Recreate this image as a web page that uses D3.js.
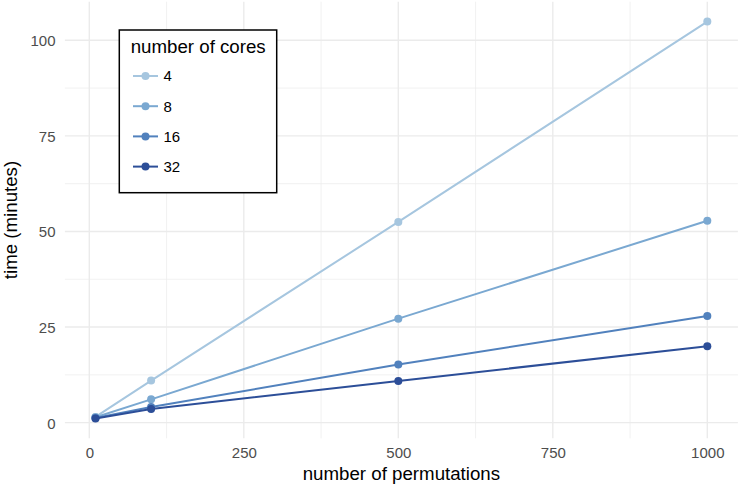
<!DOCTYPE html>
<html>
<head>
<meta charset="utf-8">
<script src="https://cdn.jsdelivr.net/npm/d3@7"></script>
<style>
  html, body { margin: 0; padding: 0; background: #fff; }
  svg { display: block; font-family: "Liberation Sans", Arial, Helvetica, sans-serif; }
</style>
</head>
<body>
<svg id="chart" width="740" height="487"></svg>
<script>
// ---- data ----
const permutations = [10, 100, 500, 1000];
const cores = ["4", "8", "16", "32"];
const time4  = [1.5, 11.0, 52.5, 104.9];
const time8  = [1.4, 6.1, 27.2, 52.8];
const time16 = [1.2, 4.1, 15.2, 27.9];
const time32 = [1.1, 3.6, 10.9, 20.0];
const xTicks = [0, 250, 500, 750, 1000];
const yTicks = [0, 25, 50, 75, 100];
const xMinor = [125, 375, 625, 875];
const yMinor = [12.5, 37.5, 62.5, 87.5];
const colors = ["#a6c6df", "#7aa8d1", "#5181bd", "#2c4e98"];

const seriesValues = [time4, time8, time16, time32];
const series = cores.map((c, i) => ({
  name: c,
  color: colors[i],
  values: permutations.map((p, j) => ({ x: p, y: seriesValues[i][j] }))
}));

// ---- layout ----
const svg = d3.select("#chart");
const panel = { left: 64.9, right: 737.9, top: 1.7, bottom: 438.3 };

function expand(ext, f) { const d = (ext[1] - ext[0]) * f; return [ext[0] - d, ext[1] + d]; }
const allY = seriesValues.flat();
const x = d3.scaleLinear().domain(expand(d3.extent(permutations), 0.05)).range([panel.left, panel.right]);
const y = d3.scaleLinear().domain(expand(d3.extent(allY), 0.05)).range([panel.bottom, panel.top]);

const grid = svg.append("g");
// minor grid
grid.selectAll("line.xm").data(xMinor).enter().append("line")
  .attr("x1", d => x(d)).attr("x2", d => x(d)).attr("y1", panel.top).attr("y2", panel.bottom)
  .attr("stroke", "#ebebeb").attr("stroke-width", 0.7);
grid.selectAll("line.ym").data(yMinor).enter().append("line")
  .attr("y1", d => y(d)).attr("y2", d => y(d)).attr("x1", panel.left).attr("x2", panel.right)
  .attr("stroke", "#ebebeb").attr("stroke-width", 0.7);
// major grid
grid.selectAll("line.xM").data(xTicks).enter().append("line")
  .attr("x1", d => x(d)).attr("x2", d => x(d)).attr("y1", panel.top).attr("y2", panel.bottom)
  .attr("stroke", "#ebebeb").attr("stroke-width", 1.4);
grid.selectAll("line.yM").data(yTicks).enter().append("line")
  .attr("y1", d => y(d)).attr("y2", d => y(d)).attr("x1", panel.left).attr("x2", panel.right)
  .attr("stroke", "#ebebeb").attr("stroke-width", 1.4);

// axes (labels only, via d3 axis)
const xAxis = svg.append("g").attr("transform", `translate(0,${panel.bottom})`)
  .call(d3.axisBottom(x).tickValues(xTicks).tickSize(0).tickPadding(0).tickFormat(d3.format("d")));
xAxis.select(".domain").remove();
xAxis.selectAll("text").attr("y", 0).attr("dy", null)
  .attr("transform", `translate(0,${457.7 - panel.bottom})`)
  .attr("font-size", "15px").attr("fill", "#4d4d4d").attr("font-family", "Liberation Sans, Arial, sans-serif");

const yAxis = svg.append("g").attr("transform", `translate(55.5,0)`)
  .call(d3.axisLeft(y).tickValues(yTicks).tickSize(0).tickPadding(0).tickFormat(d3.format("d")));
yAxis.select(".domain").remove();
yAxis.selectAll("text").attr("x", 0).attr("dy", "0.36em")
  .attr("font-size", "15px").attr("fill", "#4d4d4d").attr("font-family", "Liberation Sans, Arial, sans-serif");

// axis titles
svg.append("text").attr("x", (panel.left + panel.right) / 2).attr("y", 480)
  .attr("text-anchor", "middle").attr("font-size", "18.7px").attr("fill", "#000")
  .text("number of permutations");
svg.append("text").attr("transform", `translate(16.7,${(panel.top + panel.bottom) / 2}) rotate(-90)`)
  .attr("text-anchor", "middle").attr("font-size", "18.7px").attr("fill", "#000")
  .text("time (minutes)");

// lines & points
const line = d3.line().x(d => x(d.x)).y(d => y(d.y));
const sg = svg.append("g").selectAll("g").data(series).enter().append("g");
sg.append("path").attr("d", d => line(d.values)).attr("fill", "none")
  .attr("stroke", d => d.color).attr("stroke-width", 2);
sg.selectAll("circle").data(d => d.values.map(v => ({ ...v, color: d.color }))).enter().append("circle")
  .attr("cx", d => x(d.x)).attr("cy", d => y(d.y)).attr("r", 4).attr("fill", d => d.color);

// legend
const lg = svg.append("g");
lg.append("rect").attr("x", 119.3).attr("y", 30).attr("width", 157.4).attr("height", 162.7)
  .attr("fill", "#fff").attr("stroke", "#000").attr("stroke-width", 1.5);
lg.append("text").attr("x", 130.7).attr("y", 53.3).attr("font-size", "18.7px").attr("fill", "#000")
  .text("number of cores");
const items = lg.selectAll("g.item").data(series).enter().append("g")
  .attr("transform", (d, i) => `translate(0,${76 + i * 30.2})`);
items.append("line").attr("x1", 133).attr("x2", 158).attr("y1", 0).attr("y2", 0)
  .attr("stroke", d => d.color).attr("stroke-width", 2);
items.append("circle").attr("cx", 145.5).attr("cy", 0).attr("r", 4).attr("fill", d => d.color);
items.append("text").attr("x", 163.5).attr("y", 0).attr("dy", "0.36em")
  .attr("font-size", "15px").attr("fill", "#000").text(d => d.name);
</script>
</body>
</html>
